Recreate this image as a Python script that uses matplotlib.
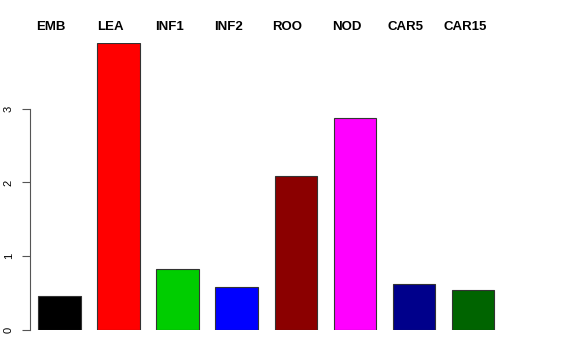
import matplotlib
matplotlib.use("Agg")
import matplotlib.pyplot as plt
import matplotlib.transforms as mtransforms

categories = ["EMB", "LEA", "INF1", "INF2", "ROO", "NOD", "CAR5", "CAR15"]
values = [0.46, 3.89, 0.83, 0.58, 2.09, 2.88, 0.62, 0.54]
colors = ["#000000", "#FF0000", "#00CD00", "#0000FF", "#8B0000", "#FF00FF", "#00008B", "#006400"]
yticks = [0, 1, 2, 3]

plt.rcParams['font.family'] = ['Liberation Sans', 'DejaVu Sans']

fig = plt.figure(figsize=(5.76, 3.6), dpi=100)
ax = fig.add_axes([30/576, 30/360, 472.5/576, 287/360])

x = list(range(len(categories)))
ax.bar(x, values, width=0.72, color=colors, edgecolor="#333333", linewidth=0.8)
ax.set_xlim(-0.5, 7.5)
ax.set_ylim(0, 3.89)

for s in ["top", "right", "bottom"]:
    ax.spines[s].set_visible(False)
ax.spines["left"].set_bounds(0, 3)
ax.spines["left"].set_color("#555555")
ax.set_xticks([])
ax.set_yticks(yticks)
ax.set_yticklabels([str(t) for t in yticks], rotation=90, va="center", fontsize=8)
ax.tick_params(axis="y", length=5.8, width=0.8, color="#555555", pad=6)

trans = mtransforms.blended_transform_factory(ax.transData, ax.transAxes)
for xi, lab in zip(x, categories):
    ax.text(xi - 0.14, 1 + 16/287, lab, transform=trans, ha="center", va="center",
            fontsize=9.5, fontweight="bold")

fig.savefig("out.png", dpi=100)
